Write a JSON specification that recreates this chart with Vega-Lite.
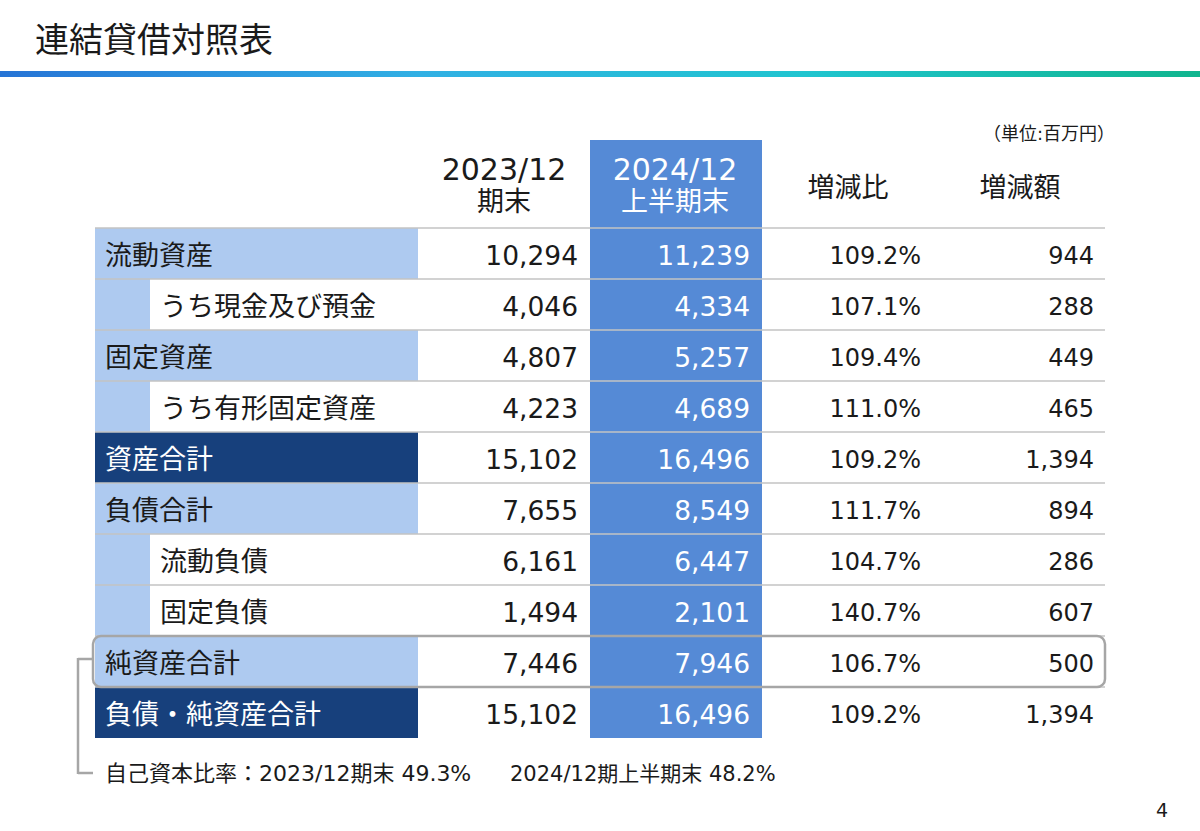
{
  "$schema": "https://vega.github.io/schema/vega-lite/v6.json",
  "width": 1200,
  "height": 831,
  "padding": 0,
  "autosize": {"type": "none"},
  "background": "white",
  "config": {"view": {"stroke": null}, "text": {"font": "DejaVu Sans, Noto Sans CJK JP"}},
  "datasets": {
    "bs": [
      {"item": "流動資産", "level": "main", "v2023": 10294, "v2024": 11239, "ratio": 1.092, "diff": 944},
      {"item": "うち現金及び預金", "level": "sub", "v2023": 4046, "v2024": 4334, "ratio": 1.071, "diff": 288},
      {"item": "固定資産", "level": "main", "v2023": 4807, "v2024": 5257, "ratio": 1.094, "diff": 449},
      {"item": "うち有形固定資産", "level": "sub", "v2023": 4223, "v2024": 4689, "ratio": 1.11, "diff": 465},
      {"item": "資産合計", "level": "total", "v2023": 15102, "v2024": 16496, "ratio": 1.092, "diff": 1394},
      {"item": "負債合計", "level": "main", "v2023": 7655, "v2024": 8549, "ratio": 1.117, "diff": 894},
      {"item": "流動負債", "level": "sub", "v2023": 6161, "v2024": 6447, "ratio": 1.047, "diff": 286},
      {"item": "固定負債", "level": "sub", "v2023": 1494, "v2024": 2101, "ratio": 1.407, "diff": 607},
      {"item": "純資産合計", "level": "main", "v2023": 7446, "v2024": 7946, "ratio": 1.067, "diff": 500},
      {"item": "負債・純資産合計", "level": "total", "v2023": 15102, "v2024": 16496, "ratio": 1.092, "diff": 1394}
    ]
  },
  "layer": [
    {
      "data": {"name": "bs"},
      "encoding": {
        "y": {"field": "item", "type": "nominal", "sort": null, "axis": null,
          "scale": {"domain": ["流動資産","うち現金及び預金","固定資産","うち有形固定資産","資産合計","負債合計","流動負債","固定負債","純資産合計","負債・純資産合計"], "range": [228, 738], "paddingInner": 0, "paddingOuter": 0}}
      },
      "layer": [
        {
          "transform": [{"filter": "datum.level !== 'sub'"}],
          "mark": {"type": "rect"},
          "encoding": {
            "x": {"datum": 95, "type": "quantitative", "axis": null, "scale": {"domain": [0, 1200], "range": [0, 1200], "nice": false, "zero": false}},
            "x2": {"datum": 418},
            "color": {"condition": {"test": "datum.level === 'total'", "value": "#17407c"}, "value": "#aecaf0"}
          }
        },
        {
          "transform": [{"filter": "datum.level === 'sub'"}],
          "mark": {"type": "rect", "color": "#aecaf0"},
          "encoding": {
            "x": {"datum": 95, "type": "quantitative", "axis": null, "scale": {"domain": [0, 1200], "range": [0, 1200], "nice": false, "zero": false}},
            "x2": {"datum": 150}
          }
        }
      ]
    },
    {
      "data": {"values": [{}]},
      "layer": [
        {
          "mark": {"type": "rect", "color": {"gradient": "linear", "stops": [{"offset": 0, "color": "#2674d6"}, {"offset": 0.35, "color": "#31b0e4"}, {"offset": 0.67, "color": "#20c5d0"}, {"offset": 1, "color": "#10b58e"}]}},
          "encoding": {
            "x": {"datum": 0, "type": "quantitative", "axis": null, "scale": {"domain": [0, 1200], "range": [0, 1200], "nice": false, "zero": false}},
            "x2": {"datum": 1200},
            "y": {"datum": 71, "type": "quantitative", "axis": null, "scale": {"domain": [0, 831], "range": [0, 831], "nice": false, "zero": false}},
            "y2": {"datum": 77}
          }
        },
        {
          "mark": {"type": "rect", "color": "#558ad6"},
          "encoding": {
            "x": {"datum": 590, "type": "quantitative", "axis": null, "scale": {"domain": [0, 1200], "range": [0, 1200], "nice": false, "zero": false}},
            "x2": {"datum": 762},
            "y": {"datum": 140, "type": "quantitative", "axis": null, "scale": {"domain": [0, 831], "range": [0, 831], "nice": false, "zero": false}},
            "y2": {"datum": 738}
          }
        },
        {
          "mark": {"type": "text", "fontSize": 34, "align": "left", "baseline": "alphabetic", "color": "#1a1a1a"},
          "encoding": {
            "x": {"datum": 35, "type": "quantitative", "axis": null, "scale": {"domain": [0, 1200], "range": [0, 1200], "nice": false, "zero": false}},
            "y": {"datum": 52, "type": "quantitative", "axis": null, "scale": {"domain": [0, 831], "range": [0, 831], "nice": false, "zero": false}},
            "text": {"value": "連結貸借対照表"}
          }
        },
        {
          "mark": {"type": "text", "fontSize": 18, "align": "right", "baseline": "alphabetic", "color": "#1a1a1a"},
          "encoding": {
            "x": {"datum": 1115, "type": "quantitative", "axis": null, "scale": {"domain": [0, 1200], "range": [0, 1200], "nice": false, "zero": false}},
            "y": {"datum": 140, "type": "quantitative", "axis": null, "scale": {"domain": [0, 831], "range": [0, 831], "nice": false, "zero": false}},
            "text": {"value": "（単位:百万円）"}
          }
        },
        {
          "mark": {"type": "text", "fontSize": 30, "align": "center", "baseline": "alphabetic", "color": "#1a1a1a"},
          "encoding": {
            "x": {"datum": 504, "type": "quantitative", "axis": null, "scale": {"domain": [0, 1200], "range": [0, 1200], "nice": false, "zero": false}},
            "y": {"datum": 180, "type": "quantitative", "axis": null, "scale": {"domain": [0, 831], "range": [0, 831], "nice": false, "zero": false}},
            "text": {"value": "2023/12"}
          }
        },
        {
          "mark": {"type": "text", "fontSize": 27, "align": "center", "baseline": "alphabetic", "color": "#1a1a1a"},
          "encoding": {
            "x": {"datum": 504, "type": "quantitative", "axis": null, "scale": {"domain": [0, 1200], "range": [0, 1200], "nice": false, "zero": false}},
            "y": {"datum": 211, "type": "quantitative", "axis": null, "scale": {"domain": [0, 831], "range": [0, 831], "nice": false, "zero": false}},
            "text": {"value": "期末"}
          }
        },
        {
          "mark": {"type": "text", "fontSize": 30, "align": "center", "baseline": "alphabetic", "color": "white"},
          "encoding": {
            "x": {"datum": 675, "type": "quantitative", "axis": null, "scale": {"domain": [0, 1200], "range": [0, 1200], "nice": false, "zero": false}},
            "y": {"datum": 180, "type": "quantitative", "axis": null, "scale": {"domain": [0, 831], "range": [0, 831], "nice": false, "zero": false}},
            "text": {"value": "2024/12"}
          }
        },
        {
          "mark": {"type": "text", "fontSize": 27, "align": "center", "baseline": "alphabetic", "color": "white"},
          "encoding": {
            "x": {"datum": 675, "type": "quantitative", "axis": null, "scale": {"domain": [0, 1200], "range": [0, 1200], "nice": false, "zero": false}},
            "y": {"datum": 211, "type": "quantitative", "axis": null, "scale": {"domain": [0, 831], "range": [0, 831], "nice": false, "zero": false}},
            "text": {"value": "上半期末"}
          }
        },
        {
          "mark": {"type": "text", "fontSize": 27, "align": "center", "baseline": "alphabetic", "color": "#1a1a1a"},
          "encoding": {
            "x": {"datum": 848, "type": "quantitative", "axis": null, "scale": {"domain": [0, 1200], "range": [0, 1200], "nice": false, "zero": false}},
            "y": {"datum": 197, "type": "quantitative", "axis": null, "scale": {"domain": [0, 831], "range": [0, 831], "nice": false, "zero": false}},
            "text": {"value": "増減比"}
          }
        },
        {
          "mark": {"type": "text", "fontSize": 27, "align": "center", "baseline": "alphabetic", "color": "#1a1a1a"},
          "encoding": {
            "x": {"datum": 1020, "type": "quantitative", "axis": null, "scale": {"domain": [0, 1200], "range": [0, 1200], "nice": false, "zero": false}},
            "y": {"datum": 197, "type": "quantitative", "axis": null, "scale": {"domain": [0, 831], "range": [0, 831], "nice": false, "zero": false}},
            "text": {"value": "増減額"}
          }
        },
        {
          "mark": {"type": "text", "fontSize": 22, "align": "left", "baseline": "alphabetic", "color": "#1a1a1a"},
          "encoding": {
            "x": {"datum": 105, "type": "quantitative", "axis": null, "scale": {"domain": [0, 1200], "range": [0, 1200], "nice": false, "zero": false}},
            "y": {"datum": 781, "type": "quantitative", "axis": null, "scale": {"domain": [0, 831], "range": [0, 831], "nice": false, "zero": false}},
            "text": {"value": "自己資本比率：2023/12期末 49.3%"}
          }
        },
        {
          "mark": {"type": "text", "fontSize": 21, "align": "left", "baseline": "alphabetic", "color": "#1a1a1a"},
          "encoding": {
            "x": {"datum": 510, "type": "quantitative", "axis": null, "scale": {"domain": [0, 1200], "range": [0, 1200], "nice": false, "zero": false}},
            "y": {"datum": 781, "type": "quantitative", "axis": null, "scale": {"domain": [0, 831], "range": [0, 831], "nice": false, "zero": false}},
            "text": {"value": "2024/12期上半期末 48.2%"}
          }
        },
        {
          "mark": {"type": "text", "fontSize": 19, "align": "center", "baseline": "alphabetic", "color": "#1a1a1a"},
          "encoding": {
            "x": {"datum": 1162, "type": "quantitative", "axis": null, "scale": {"domain": [0, 1200], "range": [0, 1200], "nice": false, "zero": false}},
            "y": {"datum": 817, "type": "quantitative", "axis": null, "scale": {"domain": [0, 831], "range": [0, 831], "nice": false, "zero": false}},
            "text": {"value": "4"}
          }
        },
        {
          "mark": {"type": "rule", "color": "#a6a6a6", "strokeWidth": 2.5},
          "encoding": {
            "x": {"datum": 78, "type": "quantitative", "axis": null, "scale": {"domain": [0, 1200], "range": [0, 1200], "nice": false, "zero": false}},
            "x2": {"datum": 94},
            "y": {"datum": 659, "type": "quantitative", "axis": null, "scale": {"domain": [0, 831], "range": [0, 831], "nice": false, "zero": false}}
          }
        },
        {
          "mark": {"type": "rule", "color": "#a6a6a6", "strokeWidth": 2.5},
          "encoding": {
            "x": {"datum": 78, "type": "quantitative", "axis": null, "scale": {"domain": [0, 1200], "range": [0, 1200], "nice": false, "zero": false}},
            "y": {"datum": 658, "type": "quantitative", "axis": null, "scale": {"domain": [0, 831], "range": [0, 831], "nice": false, "zero": false}},
            "y2": {"datum": 774}
          }
        },
        {
          "mark": {"type": "rule", "color": "#a6a6a6", "strokeWidth": 2.5},
          "encoding": {
            "x": {"datum": 78, "type": "quantitative", "axis": null, "scale": {"domain": [0, 1200], "range": [0, 1200], "nice": false, "zero": false}},
            "x2": {"datum": 93},
            "y": {"datum": 773, "type": "quantitative", "axis": null, "scale": {"domain": [0, 831], "range": [0, 831], "nice": false, "zero": false}}
          }
        }
      ]
    },
    {
      "data": {"name": "bs"},
      "encoding": {
        "y": {"field": "item", "type": "nominal", "sort": null, "axis": null,
          "scale": {"domain": ["流動資産","うち現金及び預金","固定資産","うち有形固定資産","資産合計","負債合計","流動負債","固定負債","純資産合計","負債・純資産合計"], "range": [228, 738], "paddingInner": 0, "paddingOuter": 0}}
      },
      "layer": [
        {
          "mark": {"type": "rule", "color": "#c3c3c3", "strokeWidth": 1.6},
          "encoding": {
            "y": {"field": "item", "type": "nominal", "sort": null, "axis": null, "bandPosition": 0,
              "scale": {"domain": ["流動資産","うち現金及び預金","固定資産","うち有形固定資産","資産合計","負債合計","流動負債","固定負債","純資産合計","負債・純資産合計"], "range": [228, 738], "paddingInner": 0, "paddingOuter": 0}},
            "x": {"datum": 95, "type": "quantitative", "axis": null, "scale": {"domain": [0, 1200], "range": [0, 1200], "nice": false, "zero": false}},
            "x2": {"datum": 1105}
          }
        },
        {
          "transform": [{"filter": "datum.level !== 'sub'"}],
          "mark": {"type": "text", "fontSize": 27, "align": "left", "baseline": "middle", "dy": 3},
          "encoding": {
            "x": {"datum": 105, "type": "quantitative", "axis": null, "scale": {"domain": [0, 1200], "range": [0, 1200], "nice": false, "zero": false}},
            "text": {"field": "item"},
            "color": {"condition": {"test": "datum.level === 'total'", "value": "white"}, "value": "#1a1a1a"}
          }
        },
        {
          "transform": [{"filter": "datum.level === 'sub'"}],
          "mark": {"type": "text", "fontSize": 27, "align": "left", "baseline": "middle", "dy": 3, "color": "#1a1a1a"},
          "encoding": {
            "x": {"datum": 160, "type": "quantitative", "axis": null, "scale": {"domain": [0, 1200], "range": [0, 1200], "nice": false, "zero": false}},
            "text": {"field": "item"}
          }
        },
        {
          "mark": {"type": "text", "fontSize": 26.5, "align": "right", "baseline": "middle", "dy": 3, "color": "#1a1a1a"},
          "encoding": {
            "x": {"datum": 578, "type": "quantitative", "axis": null, "scale": {"domain": [0, 1200], "range": [0, 1200], "nice": false, "zero": false}},
            "text": {"field": "v2023", "type": "quantitative", "format": ","}
          }
        },
        {
          "mark": {"type": "text", "fontSize": 26.5, "align": "right", "baseline": "middle", "dy": 3, "color": "white"},
          "encoding": {
            "x": {"datum": 750, "type": "quantitative", "axis": null, "scale": {"domain": [0, 1200], "range": [0, 1200], "nice": false, "zero": false}},
            "text": {"field": "v2024", "type": "quantitative", "format": ","}
          }
        },
        {
          "mark": {"type": "text", "fontSize": 24, "align": "right", "baseline": "middle", "dy": 3, "color": "#1a1a1a"},
          "encoding": {
            "x": {"datum": 921, "type": "quantitative", "axis": null, "scale": {"domain": [0, 1200], "range": [0, 1200], "nice": false, "zero": false}},
            "text": {"field": "ratio", "type": "quantitative", "format": ".1%"}
          }
        },
        {
          "mark": {"type": "text", "fontSize": 24, "align": "right", "baseline": "middle", "dy": 3, "color": "#1a1a1a"},
          "encoding": {
            "x": {"datum": 1094, "type": "quantitative", "axis": null, "scale": {"domain": [0, 1200], "range": [0, 1200], "nice": false, "zero": false}},
            "text": {"field": "diff", "type": "quantitative", "format": ","}
          }
        },
        {
          "transform": [{"filter": "datum.item === '純資産合計'"}],
          "mark": {"type": "rect", "fill": "white", "fillOpacity": 0, "stroke": "#a6a6a6", "strokeWidth": 2.5, "cornerRadius": 8},
          "encoding": {
            "x": {"datum": 93, "type": "quantitative", "axis": null, "scale": {"domain": [0, 1200], "range": [0, 1200], "nice": false, "zero": false}},
            "x2": {"datum": 1105}
          }
        }
      ]
    }
  ],
  "resolve": {"scale": {"y": "independent"}}
}
